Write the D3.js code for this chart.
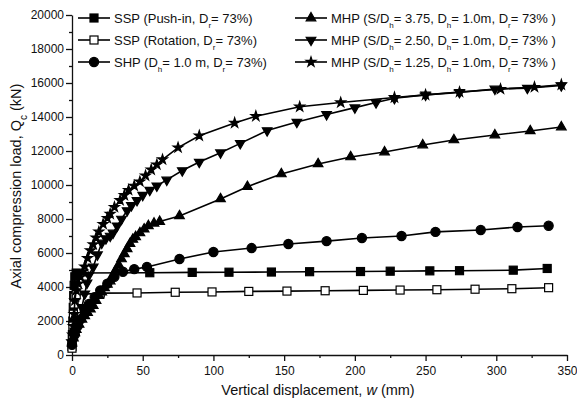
<!DOCTYPE html>
<html>
<head>
<meta charset="utf-8">
<script src="https://cdn.jsdelivr.net/npm/d3@7"></script>
<style>
  body { margin: 0; background: #fff; }
  text { font-family: "Liberation Sans", Arial, sans-serif; fill: #111; }
</style>
</head>
<body>
<svg id="chart" width="577" height="401"></svg>
<script>
// [w (mm), Qc (kN)]
const sspPush = [[0,500],[0.3,1200],[0.6,2000],[0.9,2800],[1.2,3500],[1.5,4100],[2,4600],[3,4820],
  [55,4840],[85,4860],[111,4870],[141,4880],[168,4900],[204,4910],[225,4930],[253,4950],[274,4960],[312,4990],[336,5090]];
const sspRot = [[0,400],[0.3,1000],[0.6,1700],[1,2400],[1.5,3000],[2,3400],[3,3550],[20,3640],
  [46,3650],[73,3690],[99,3710],[125,3740],[152,3760],[179,3780],[206,3800],[232,3820],[258,3840],[285,3870],[311,3900],[337,3960]];
const shp = [[0,600],[2,1200],[4,1700],[6,2100],[9,2600],[12,3000],[16,3400],[20,3800],[25,4200],[30,4600],[36,4900],[44,5050],
  [53,5180],[76,5650],[100,6060],[127,6290],[153,6530],[180,6700],[205,6880],[233,7000],[257,7240],[289,7350],[315,7530],[337,7600]];
const mhp375 = [[0,700],[1,1000],[2,1300],[3,1500],[5,1800],[7,2100],[9,2300],[11,2500],[13,2700],[15,2900],[17,3200],[19,3500],
  [21,3700],[23,3950],[25,4150],[27,4350],[29,4700],[31,5000],[33,5300],[35,5650],[37,5950],[39,6250],[41,6550],[43,6800],
  [45,6950],[48,7180],[51,7400],[54,7600],[58,7750],[62,7850],[76,8180],[105,9180],[124,9900],[148,10650],[174,11240],
  [197,11650],[221,11940],[248,12350],[270,12650],[299,12940],[324,13180],[346,13410]];
const mhp250 = [[0,700],[1,1100],[2,1400],[3.5,1650],[5,2100],[7,2800],[9,3600],[10.6,4240],[12,4700],[15,5180],[18,5900],
  [21,6590],[24,6850],[27,7000],[29,7180],[32,7600],[35,8000],[39,8500],[42,8800],[46,9100],[50,9400],[55,9700],[60,9950],
  [67,10300],[78,10850],[90,11350],[105,11900],[119,12450],[138,13200],[159,13700],[180,14150],[200,14550],[215,14850],
  [228,15100],[250,15300],[274,15450],[299,15650],[322,15700],[346,15850]];
const mhp125 = [[0,800],[0.5,1200],[1,1700],[1.5,2400],[2,3200],[3,3800],[4.5,4200],[6,4600],[7.5,4900],[9,5200],[11,5700],
  [13,6150],[15,6500],[17,6900],[19,7250],[22,7700],[25,8050],[27,8300],[30,8700],[34,9100],[37,9400],[40,9700],[44,9950],
  [48,10200],[52,10550],[56,10900],[60,11200],[64,11500],[75,12200],[90,12900],[115,13650],
  [130,14050],[161,14600],[190,14850],[228,15150],[250,15300],[274,15470],[303,15640],
  [327,15760],[346,15900]];

const xTicks = [0, 50, 100, 150, 200, 250, 300, 350];
const yTicks = [0, 2000, 4000, 6000, 8000, 10000, 12000, 14000, 16000, 18000, 20000];

const series = [
  { data: sspPush, symbol: 'square', fill: '#000', label: [['SSP (Push-in, D'], ['r', 'sub'], ['= 73%)']] },
  { data: sspRot, symbol: 'square', fill: '#fff', label: [['SSP (Rotation, D'], ['r', 'sub'], ['= 73%)']] },
  { data: shp, symbol: 'circle', fill: '#000', label: [['SHP (D'], ['h', 'sub'], ['= 1.0 m, D'], ['r', 'sub'], ['= 73%)']] },
  { data: mhp375, symbol: 'up', fill: '#000', label: [['MHP (S/D'], ['h', 'sub'], ['= 3.75, D'], ['h', 'sub'], ['= 1.0m, D'], ['r', 'sub'], ['= 73% )']] },
  { data: mhp250, symbol: 'down', fill: '#000', label: [['MHP (S/D'], ['h', 'sub'], ['= 2.50, D'], ['h', 'sub'], ['= 1.0m, D'], ['r', 'sub'], ['= 73% )']] },
  { data: mhp125, symbol: 'star', fill: '#000', label: [['MHP (S/D'], ['h', 'sub'], ['= 1.25, D'], ['h', 'sub'], ['= 1.0m, D'], ['r', 'sub'], ['= 73% )']] }
];

const svg = d3.select('#chart');
const x = d3.scaleLinear().domain([0, 350]).range([72, 567]);
const y = d3.scaleLinear().domain([0, 20000]).range([355, 15]);

// axes: major + minor ticks
svg.append('g')
  .attr('transform', `translate(0,${y(0)})`)
  .call(d3.axisBottom(x).tickValues(xTicks).tickSize(6).tickSizeOuter(0).tickPadding(5))
  .call(g => g.selectAll('text').attr('font-size', 12))
  .call(g => g.append('g').call(d3.axisBottom(x).tickValues(d3.range(25, 350, 50)).tickSize(3).tickFormat(''))
    .select('.domain').remove());

svg.append('g')
  .attr('transform', `translate(${x(0)},0)`)
  .call(d3.axisLeft(y).tickValues(yTicks).tickFormat(d3.format('d')).tickSize(6).tickSizeOuter(0).tickPadding(2))
  .call(g => g.selectAll('text').attr('font-size', 12))
  .call(g => g.append('g').call(d3.axisLeft(y).tickValues(d3.range(1000, 20000, 2000)).tickSize(3).tickFormat(''))
    .select('.domain').remove());

svg.selectAll('.domain, .tick line').attr('stroke', '#111').attr('stroke-width', 1.3);

// axis titles
const xt = svg.append('text').attr('x', 318).attr('y', 395).attr('text-anchor', 'middle').attr('font-size', 14.5);
xt.append('tspan').text('Vertical displacement, ');
xt.append('tspan').attr('font-style', 'italic').text('w');
xt.append('tspan').text(' (mm)');

const yt = svg.append('text').attr('transform', 'translate(21,186) rotate(-90)')
  .attr('text-anchor', 'middle').attr('font-size', 14.5);
yt.append('tspan').text('Axial compression load, Q');
yt.append('tspan').attr('baseline-shift', 'sub').attr('font-size', 10).text('c');
yt.append('tspan').text(' (kN)');

function marker(sel, kind, fill) {
  if (kind === 'circle') {
    sel.append('circle').attr('r', 4.6);
  } else if (kind === 'square') {
    sel.append('rect').attr('x', -4).attr('y', -4).attr('width', 8).attr('height', 8);
  } else if (kind === 'up') {
    sel.append('path').attr('d', d3.symbol(d3.symbolTriangle, 40)());
  } else if (kind === 'down') {
    sel.append('path').attr('d', d3.symbol(d3.symbolTriangle, 40)()).attr('transform', 'rotate(180)');
  } else {
    sel.append('path').attr('d', d3.symbol(d3.symbolStar, 30)());
  }
  sel.selectAll('*').attr('fill', fill).attr('stroke', '#000').attr('stroke-width', 1.2);
}

const line = d3.line().x(d => x(d[0])).y(d => y(d[1]));

series.forEach(s => {
  svg.append('path').datum(s.data)
    .attr('d', line).attr('fill', 'none').attr('stroke', '#000').attr('stroke-width', 1.6);
  svg.append('g').selectAll('g').data(s.data).join('g')
    .attr('transform', d => `translate(${x(d[0])},${y(d[1])})`)
    .each(function () { marker(d3.select(this), s.symbol, s.fill); });
});

// legend
const legPos = [[78, 18], [78, 40], [78, 62], [295, 18], [295, 40], [295, 62]];
series.forEach((s, i) => {
  const [lx, ly] = legPos[i];
  const g = svg.append('g').attr('transform', `translate(${lx},${ly})`);
  g.append('line').attr('x1', 0).attr('x2', 32).attr('stroke', '#000').attr('stroke-width', 1.6);
  marker(g.append('g').attr('transform', 'translate(16,0)'), s.symbol, s.fill);
  const t = g.append('text').attr('x', 36).attr('y', 5).attr('font-size', 13);
  s.label.forEach(([str, kind]) => {
    const sp = t.append('tspan').text(str);
    if (kind === 'sub') sp.attr('baseline-shift', 'sub').attr('font-size', 8);
    else sp.attr('baseline-shift', '0');
  });
});
</script>
</body>
</html>
